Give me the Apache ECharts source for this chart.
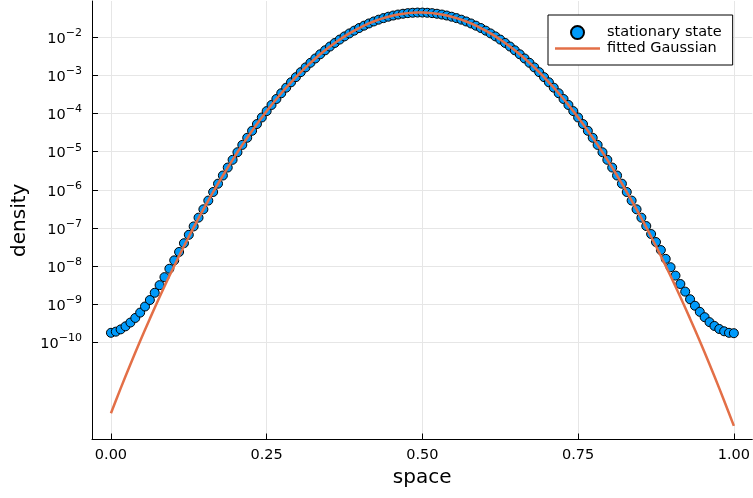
<!DOCTYPE html>
<html>
<head>
<meta charset="utf-8">
<script src="https://cdn.jsdelivr.net/npm/echarts@6/dist/echarts.min.js"></script>
<style>
  html, body { margin: 0; padding: 0; background: #fff; }
  #chart { width: 753px; height: 498px; }
</style>
</head>
<body>
<div id="chart"></div>
<script>
// grid points on [0, 1]
var space = [0, 0.0078, 0.0156, 0.0234, 0.0313, 0.0391, 0.0469, 0.0547, 0.0625, 0.0703, 0.0781, 0.0859, 0.0938, 0.1016, 0.1094, 0.1172,
  0.125, 0.1328, 0.1406, 0.1484, 0.1563, 0.1641, 0.1719, 0.1797, 0.1875, 0.1953, 0.2031, 0.2109, 0.2188, 0.2266, 0.2344, 0.2422,
  0.25, 0.2578, 0.2656, 0.2734, 0.2813, 0.2891, 0.2969, 0.3047, 0.3125, 0.3203, 0.3281, 0.3359, 0.3438, 0.3516, 0.3594, 0.3672,
  0.375, 0.3828, 0.3906, 0.3984, 0.4063, 0.4141, 0.4219, 0.4297, 0.4375, 0.4453, 0.4531, 0.4609, 0.4688, 0.4766, 0.4844, 0.4922,
  0.5, 0.5078, 0.5156, 0.5234, 0.5313, 0.5391, 0.5469, 0.5547, 0.5625, 0.5703, 0.5781, 0.5859, 0.5938, 0.6016, 0.6094, 0.6172,
  0.625, 0.6328, 0.6406, 0.6484, 0.6563, 0.6641, 0.6719, 0.6797, 0.6875, 0.6953, 0.7031, 0.7109, 0.7188, 0.7266, 0.7344, 0.7422,
  0.75, 0.7578, 0.7656, 0.7734, 0.7813, 0.7891, 0.7969, 0.8047, 0.8125, 0.8203, 0.8281, 0.8359, 0.8438, 0.8516, 0.8594, 0.8672,
  0.875, 0.8828, 0.8906, 0.8984, 0.9063, 0.9141, 0.9219, 0.9297, 0.9375, 0.9453, 0.9531, 0.9609, 0.9688, 0.9766, 0.9844, 0.9922,
  1];

// log10(density) of the stationary state
var stateLog10 = [-9.75, -9.72, -9.66, -9.58, -9.48, -9.36, -9.22, -9.06, -8.89, -8.70, -8.50, -8.29, -8.07, -7.85, -7.63, -7.40,
  -7.18, -6.96, -6.73, -6.511, -6.282, -6.057, -5.839, -5.625, -5.416, -5.213, -5.015, -4.822, -4.635, -4.452, -4.275, -4.103,
  -3.936, -3.774, -3.618, -3.467, -3.321, -3.180, -3.045, -2.914, -2.789, -2.669, -2.555, -2.445, -2.341, -2.242, -2.148, -2.060,
  -1.976, -1.898, -1.825, -1.757, -1.695, -1.637, -1.585, -1.538, -1.497, -1.460, -1.429, -1.403, -1.382, -1.366, -1.356, -1.351,
  -1.351, -1.356, -1.366, -1.382, -1.403, -1.429, -1.460, -1.497, -1.538, -1.585, -1.637, -1.695, -1.757, -1.825, -1.898, -1.976,
  -2.060, -2.148, -2.242, -2.341, -2.445, -2.555, -2.669, -2.789, -2.914, -3.045, -3.180, -3.321, -3.467, -3.618, -3.774, -3.936,
  -4.103, -4.275, -4.452, -4.635, -4.822, -5.015, -5.213, -5.416, -5.625, -5.839, -6.057, -6.282, -6.511, -6.73, -6.95, -7.16,
  -7.37, -7.58, -7.81, -8.03, -8.25, -8.47, -8.67, -8.87, -9.04, -9.20, -9.34, -9.47, -9.57, -9.65, -9.71, -9.75,
  -9.76];

// log10(density) of the fitted Gaussian
var gaussLog10 = [-11.859, -11.531, -11.207, -10.889, -10.577, -10.269, -9.967, -9.670, -9.378, -9.091, -8.810, -8.533, -8.262, -7.997, -7.736, -7.480,
  -7.230, -6.985, -6.746, -6.511, -6.282, -6.057, -5.839, -5.625, -5.416, -5.213, -5.015, -4.822, -4.635, -4.452, -4.275, -4.103,
  -3.936, -3.774, -3.618, -3.467, -3.321, -3.180, -3.045, -2.914, -2.789, -2.669, -2.555, -2.445, -2.341, -2.242, -2.148, -2.060,
  -1.976, -1.898, -1.825, -1.757, -1.695, -1.637, -1.585, -1.538, -1.497, -1.460, -1.429, -1.403, -1.382, -1.366, -1.356, -1.351,
  -1.351, -1.356, -1.366, -1.382, -1.403, -1.429, -1.460, -1.497, -1.538, -1.585, -1.637, -1.695, -1.757, -1.825, -1.898, -1.976,
  -2.060, -2.148, -2.242, -2.341, -2.445, -2.555, -2.669, -2.789, -2.914, -3.045, -3.180, -3.321, -3.467, -3.618, -3.774, -3.936,
  -4.103, -4.275, -4.452, -4.635, -4.822, -5.015, -5.213, -5.416, -5.625, -5.839, -6.057, -6.282, -6.511, -6.746, -6.985, -7.230,
  -7.480, -7.736, -7.997, -8.262, -8.533, -8.810, -9.091, -9.378, -9.670, -9.967, -10.269, -10.577, -10.889, -11.207, -11.531, -11.859,
  -12.192];

var xTicks = [0, 0.25, 0.5, 0.75, 1];
var yTicks = [-10, -9, -8, -7, -6, -5, -4, -3, -2];

var font = 'DejaVu Sans';

var statePts = [];
var gaussPts = [];
for (var i = 0; i < space.length; i++) {
  statePts.push([space[i], stateLog10[i]]);
  gaussPts.push([space[i], gaussLog10[i]]);
}

var myChart = echarts.init(document.getElementById('chart'));

var option = {
  animation: false,
  backgroundColor: '#fff',
  grid: { left: 92, top: 1, width: 662.5, height: 438.5 },
  legend: {
    orient: 'vertical',
    left: 548,
    top: 15,
    backgroundColor: '#fff',
    borderColor: '#000',
    borderWidth: 1,
    padding: [10, 11, 9, 7],
    itemWidth: 45,
    itemHeight: 13,
    itemGap: 1,
    textStyle: { fontFamily: font, fontSize: 14.5, color: '#000', padding: [0, 0, 0, 2] },
    data: [
      { name: 'stationary state' },
      // plain line sample, no marker
      { name: 'fitted Gaussian', icon: 'path://M0,0L45,0L45,2.5L0,2.5Z' }
    ]
  },
  xAxis: {
    type: 'value',
    min: -0.0304,
    max: 1.0296,
    name: 'space',
    nameLocation: 'middle',
    nameGap: 28,
    nameTextStyle: { fontFamily: font, fontSize: 20, color: '#000' },
    axisLine: { show: true, onZero: false, lineStyle: { color: '#000', width: 1 } },
    axisTick: { show: true, inside: true, length: 6, customValues: xTicks, lineStyle: { color: '#000' } },
    axisLabel: {
      customValues: xTicks,
      margin: 8,
      fontFamily: font, fontSize: 14.5, color: '#000',
      formatter: function (v) { return v.toFixed(2); }
    },
    splitLine: { show: true, lineStyle: { color: '#e6e6e6', width: 1 } }
  },
  yAxis: {
    type: 'value',
    min: -12.548,
    max: -1.048,
    name: 'density',
    nameLocation: 'middle',
    nameGap: 62,
    nameTextStyle: { fontFamily: font, fontSize: 20, color: '#000' },
    axisLine: { show: true, onZero: false, lineStyle: { color: '#000', width: 1 } },
    axisTick: { show: true, inside: true, length: 6, customValues: yTicks, lineStyle: { color: '#000' } },
    axisLabel: {
      customValues: yTicks,
      margin: 10,
      formatter: function (v) { return '{b|10}{s|\u2212' + Math.round(-v) + '}'; },
      rich: {
        b: { fontFamily: font, fontSize: 14.5, color: '#000', verticalAlign: 'bottom', lineHeight: 14 },
        s: { fontFamily: font, fontSize: 11, color: '#000', verticalAlign: 'bottom', padding: [0, 0, 8, 0] }
      }
    },
    splitLine: { show: true, lineStyle: { color: '#e6e6e6', width: 1 } }
  },
  series: [
    {
      name: 'stationary state',
      type: 'scatter',
      data: statePts,
      symbol: 'circle',
      symbolSize: 9,
      itemStyle: { color: '#009AFA', borderColor: '#000', borderWidth: 1, opacity: 1 }
    },
    {
      name: 'fitted Gaussian',
      type: 'line',
      data: gaussPts,
      showSymbol: false,
      symbol: 'none',
      lineStyle: { color: '#E36F47', width: 2.5 },
      itemStyle: { color: '#E36F47' }
    }
  ]
};

myChart.setOption(option);
</script>
</body>
</html>
